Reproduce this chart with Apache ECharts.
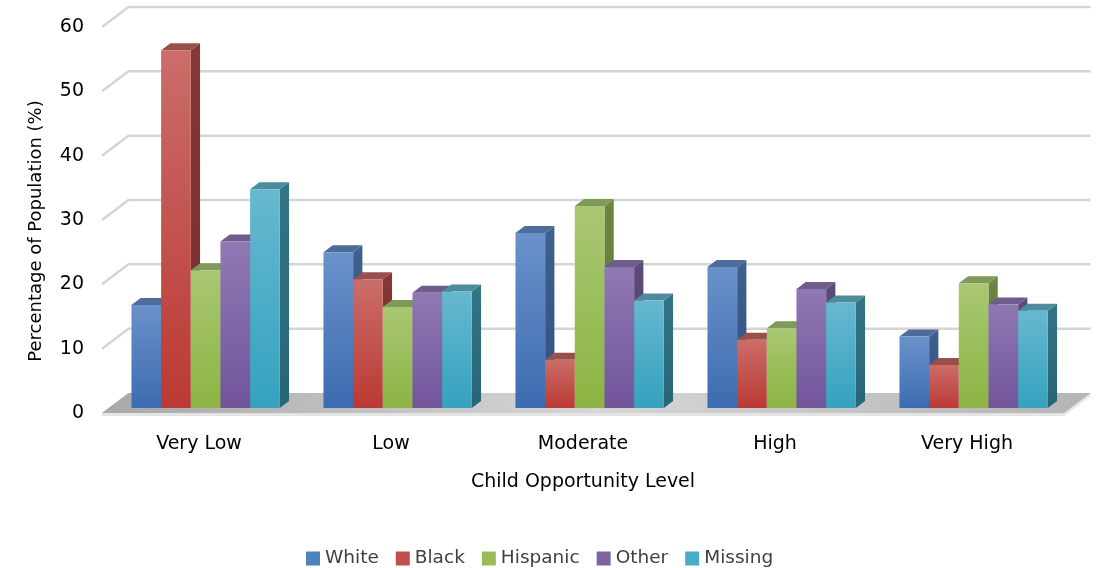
<!DOCTYPE html>
<html>
<head>
<meta charset="utf-8">
<title>Child Opportunity Level by Race/Ethnicity</title>
<script src="https://cdn.jsdelivr.net/npm/echarts@6/dist/echarts.min.js"></script>
<style>
  html, body { margin: 0; padding: 0; background: #ffffff; }
  #chart { width: 1097px; height: 568px; }
</style>
</head>
<body>
<div id="chart"></div>
<script>
// Categories, series and values (percentage of population)
const categories = ['Very Low', 'Low', 'Moderate', 'High', 'Very High'];
const seriesNames = ['White', 'Black', 'Hispanic', 'Other', 'Missing'];
const white    = [16.0, 24.2, 27.2, 21.9, 11.1];
const black    = [55.6, 20.0, 7.5, 10.6, 6.7];
const hispanic = [21.4, 15.7, 31.4, 12.4, 19.4];
const other    = [25.9, 17.9, 21.9, 18.5, 16.1];
const missing  = [34.0, 18.1, 16.7, 16.4, 15.1];
const yTicks = [0, 10, 20, 30, 40, 50, 60];

const seriesValues = [white, black, hispanic, other, missing];

// Face shading for each series: front gradient (top, bottom), side, top
const palette = [
  { base: '#4f81bd', front: ['#6b91c9', '#3b6cb1'], side: ['#40618f', '#2f5081'], top: '#4d6c99' },
  { base: '#c0504d', front: ['#ca6d69', '#bb3934'], side: ['#853836', '#742c2a'], top: '#99504d' },
  { base: '#9bbb59', front: ['#a9c773', '#8db443'], side: ['#6c8542', '#5e7636'], top: '#7f9a58' },
  { base: '#8064a2', front: ['#8f79b3', '#72549b'], side: ['#5e4a7b', '#503e6c'], top: '#6f5c8c' },
  { base: '#4bacc6', front: ['#67b8d0', '#34a2bf'], side: ['#337585', '#286575'], top: '#4e8b9c' }
];

// Oblique depth of the floor/back wall, bar plane offset and bar depth
const DEPTH = [26.5, -20];
const BAR_OFFSET = [DEPTH[0] * 0.25, DEPTH[1] * 0.25];
const BAR_DEPTH = [DEPTH[0] * 0.35, DEPTH[1] * 0.35];
const BAR_FRACTION = 0.1545;

const FONT = 'DejaVu Sans';
const FONT_SIZE = 19;

function renderWall(params, api) {
  const cs = params.coordSys;
  const v = api.value(1);
  const y = api.coord([0, v])[1];
  const left = cs.x - 1;
  const right = cs.x + cs.width + 1;
  const children = [];
  if (v === 0) {
    // floor slab
    children.push({
      type: 'polygon',
      shape: { points: [[left, y + 3], [right, y + 3], [right + DEPTH[0], y + DEPTH[1] + 3], [right + DEPTH[0], y + DEPTH[1]], [left + DEPTH[0], y + DEPTH[1]], [left, y]] },
      style: { fill: '#e4e4e4' }
    });
    children.push({
      type: 'polygon',
      shape: { points: [[left, y], [right, y], [right + DEPTH[0], y + DEPTH[1]], [left + DEPTH[0], y + DEPTH[1]]] },
      style: {
        fill: {
          type: 'linear', x: 0, y: 0, x2: 1, y2: 1,
          colorStops: [
            { offset: 0, color: '#a9a9a9' },
            { offset: 0.5, color: '#d6d6d6' },
            { offset: 1, color: '#b4b4b4' }
          ]
        }
      }
    });
  } else {
    children.push({
      type: 'polyline',
      shape: { points: [[left, y], [left + DEPTH[0], y + DEPTH[1]], [right + DEPTH[0], y + DEPTH[1]]] },
      style: { stroke: '#d5d5d5', lineWidth: 2.5, fill: null }
    });
  }
  return { type: 'group', children: children };
}

function makeBarRenderer(k) {
  const col = palette[k];
  return function (params, api) {
    const ci = api.value(0);
    const v = api.value(1);
    const band = api.size([1, 0])[0];
    const bw = band * BAR_FRACTION;
    const base = api.coord([ci, 0]);
    const topPt = api.coord([ci, v]);
    const x0 = base[0] + BAR_OFFSET[0] + (k - 2.5) * bw;
    const x1 = x0 + bw;
    const yb = base[1] + BAR_OFFSET[1];
    const yt = topPt[1] + BAR_OFFSET[1];
    const dx = BAR_DEPTH[0], dy = BAR_DEPTH[1];
    return {
      type: 'group',
      children: [
        {
          type: 'polygon',
          shape: { points: [[x1, yt], [x1 + dx, yt + dy], [x1 + dx, yb + dy], [x1, yb]] },
          style: {
            fill: { type: 'linear', x: 0, y: 0, x2: 0, y2: 1, colorStops: [
              { offset: 0, color: col.side[0] }, { offset: 1, color: col.side[1] }] }
          }
        },
        {
          type: 'polygon',
          shape: { points: [[x0, yt], [x1, yt], [x1 + dx, yt + dy], [x0 + dx, yt + dy]] },
          style: { fill: col.top }
        },
        {
          type: 'rect',
          shape: { x: x0, y: yt, width: bw, height: yb - yt },
          style: {
            fill: { type: 'linear', x: 0, y: 0, x2: 0, y2: 1, colorStops: [
              { offset: 0, color: col.front[0] }, { offset: 1, color: col.front[1] }] }
          }
        }
      ]
    };
  };
}

const series = [{
  name: 'wall',
  type: 'custom',
  renderItem: renderWall,
  data: yTicks.map(function (t) { return [0, t]; }),
  silent: true,
  z: 1
}];
seriesNames.forEach(function (name, k) {
  series.push({
    name: name,
    type: 'custom',
    renderItem: makeBarRenderer(k),
    itemStyle: { color: palette[k].base },
    data: categories.map(function (c, i) { return [i, seriesValues[k][i]]; }),
    z: 2
  });
});

const chart = echarts.init(document.getElementById('chart'), null, { renderer: 'canvas' });
chart.setOption({
  animation: false,
  backgroundColor: '#ffffff',
  textStyle: { fontFamily: FONT },
  grid: { left: 103, right: 34, top: 27, bottom: 155 },
  legend: {
    data: seriesNames,
    left: 301,
    top: 544,
    icon: 'rect',
    itemWidth: 14,
    itemHeight: 14,
    itemGap: 17,
    textStyle: { fontFamily: FONT, fontSize: 18.5, color: '#404040' }
  },
  xAxis: {
    type: 'category',
    data: categories,
    axisLine: { show: false },
    axisTick: { show: false },
    splitLine: { show: false },
    axisLabel: { margin: 22, fontFamily: FONT, fontSize: FONT_SIZE, color: '#000000' },
    name: 'Child Opportunity Level',
    nameLocation: 'middle',
    nameGap: 60,
    nameTextStyle: { fontFamily: FONT, fontSize: FONT_SIZE, color: '#000000' }
  },
  yAxis: {
    type: 'value',
    min: 0,
    max: 60,
    interval: 10,
    axisLine: { show: false },
    axisTick: { show: false },
    splitLine: { show: false },
    axisLabel: { margin: 19, fontFamily: FONT, fontSize: FONT_SIZE, color: '#000000' },
    name: 'Percentage of Population (%)',
    nameLocation: 'middle',
    nameGap: 58,
    nameTextStyle: { fontFamily: FONT, fontSize: 18, color: '#000000', padding: [0, 22, 0, 0] }
  },
  series: series
});
</script>
</body>
</html>
